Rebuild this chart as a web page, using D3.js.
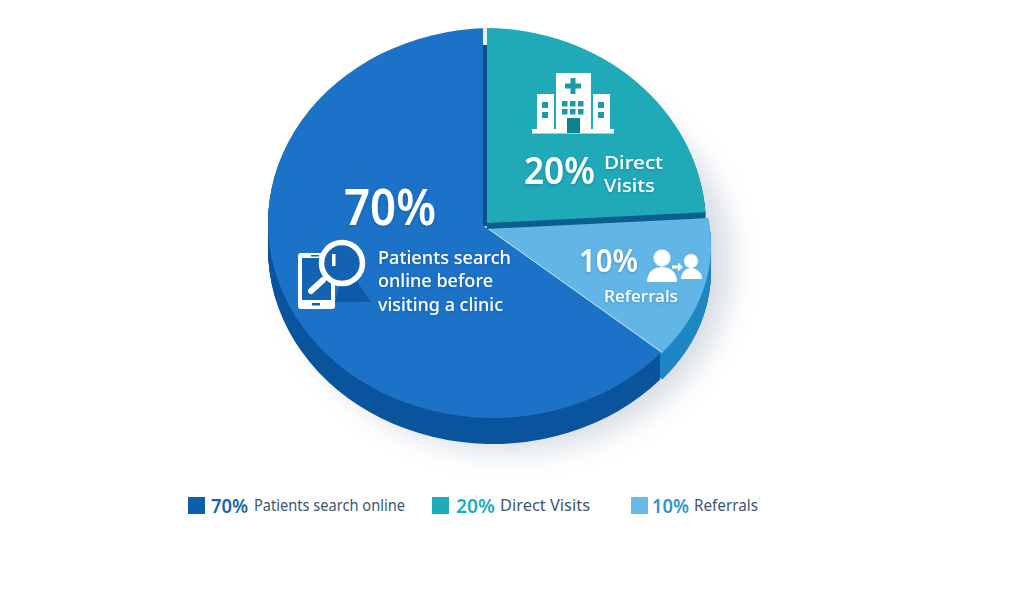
<!DOCTYPE html>
<html><head><meta charset="utf-8">
<script src="https://cdnjs.cloudflare.com/ajax/libs/d3/7.8.5/d3.min.js"></script>
<style>html,body{margin:0;background:#fff}svg{display:block;font-family:"Noto Sans",sans-serif}</style>
</head><body><svg id="c" width="1024" height="589"></svg>
<script>
const categories = ["Patients search online","Direct Visits","Referrals"];
const labelValues = [70,20,10];
// sweep of each slice as drawn in the picture (degrees, clockwise from 12 o'clock)
const drawnSweep = [226.3,86,47.7];
const topColors = ["#1c72c6","#20aab8","#62b6e6"];
const sideColors = ["#0a549e","#0b5f8e","#1f86c4"];
const legendColors = ["#0b60ae","#1fabb8","#66bbe9"];
const legendValueColors = ["#1565ad","#1fabb8","#2f93d2"];

const svg = d3.select("#c");
const defs = svg.append("defs");
defs.append("filter").attr("id","blur").attr("x","-30%").attr("y","-30%").attr("width","160%").attr("height","160%")
  .append("feGaussianBlur").attr("stdDeviation",14);
const ts = defs.append("filter").attr("id","ts").attr("x","-20%").attr("y","-20%").attr("width","140%").attr("height","140%");
ts.append("feDropShadow").attr("dx",0).attr("dy",1).attr("stdDeviation",1.5).attr("flood-color","#0a3a6a").attr("flood-opacity",.3);

const rows = categories.map((c,i)=>({c,i,sweep:drawnSweep[i]}));
const pie = d3.pie().sort(null).value(d=>d.sweep).startAngle(0).endAngle(2*Math.PI);
const arcs = pie([rows[1],rows[2],rows[0]]);
// each slice of the picture has its own slightly different ellipse and tip
const shape = {
  0:{cx:493,cy:223,rx:225,ry:195,tip:[493,223],turn:-1.7,depth:26},
  1:{cx:485,cy:226,rx:221,ry:198,tip:[487,223],turn:0,depth:6},
  2:{cx:489,cy:245,rx:222,ry:172,tip:[483,225],turn:-5,depth:27}
};
function wedge(k){
  const a = arcs.find(d=>d.data.i===k), s = shape[k], q = s.ry/s.rx, t = s.turn*Math.PI/180, h = Math.PI/2;
  const p = d3.path();
  p.moveTo(s.tip[0]-s.cx,(s.tip[1]-s.cy)/q);
  p.arc(0,0,s.rx,a.startAngle+t-h,a.endAngle+t-h);
  p.closePath();
  return p.toString();
}
const face = (k,dy)=>`translate(${shape[k].cx},${shape[k].cy+dy}) scale(1,${shape[k].ry/shape[k].rx})`;
function drawSide(k){
  svg.append("g").selectAll("path").data(d3.range(1,shape[k].depth+1)).join("path")
    .attr("d",wedge(k)).attr("transform",s=>face(k,s)).attr("fill",sideColors[k]);
}
function drawFace(k){ svg.append("path").attr("d",wedge(k)).attr("transform",face(k,0)).attr("fill",topColors[k]); }

// soft shadow
svg.append("ellipse").attr("cx",510).attr("cy",262).attr("rx",222).attr("ry",190)
  .attr("fill","#6f86a0").attr("opacity",.28).attr("filter","url(#blur)");

drawSide(2); drawSide(0); drawFace(0); drawFace(2);
// light seam between blue and light-blue
const sE = arcs.find(d=>d.data.i===2).endAngle + shape[2].turn*Math.PI/180;
svg.append("line").attr("x1",shape[2].tip[0]).attr("y1",shape[2].tip[1])
  .attr("x2",shape[2].cx+shape[2].rx*Math.sin(sE)).attr("y2",shape[2].cy-shape[2].ry*Math.cos(sE))
  .attr("stroke","#cfe8f8").attr("stroke-width",1);
drawSide(1); drawFace(1);
// white gap and inner dark wall of the big slice, next to the teal one
svg.append("rect").attr("x",483).attr("y",27).attr("width",4).attr("height",18).attr("fill","#eceef0");
svg.append("rect").attr("x",483).attr("y",45).attr("width",4).attr("height",181).attr("fill","#0a4f94");

const T = (x,y,s,size,weight,fill,filt)=>{
  const t = svg.append("text").attr("x",x).attr("y",y).text(s).attr("font-size",size).attr("font-weight",weight).attr("fill",fill||"#fff");
  if(filt!==false) t.attr("filter","url(#ts)");
  return t;
};
const fit = (t,w)=>t.attr("textLength",w).attr("lengthAdjust","spacingAndGlyphs");
fit(T(344,225,labelValues[0]+"%",50,600),92);
fit(T(378,264,"Patients search",18,500),133);
fit(T(378,287,"online before",18,500),115);
fit(T(378,311,"visiting a clinic",18,500),125);
fit(T(524,184,labelValues[1]+"%",38,600),71);
fit(T(604,169,"Direct",18.5,500),59);
fit(T(604,192,"Visits",18.5,500),51);
fit(T(579,272,labelValues[2]+"%",32,600),59);
fit(T(604,302,categories[2],16,500),74);

// phone + magnifier icon
const ic = svg.append("g");
ic.append("path").attr("d","M345 264 L371 302 L335 302 Z").attr("fill","#0e5aa8");
ic.append("rect").attr("x",298).attr("y",253).attr("width",37).attr("height",56).attr("rx",3).attr("fill","#fff");
ic.append("rect").attr("x",302).attr("y",258).attr("width",29).attr("height",42).attr("fill","#1463b3");
ic.append("rect").attr("x",312).attr("y",303).attr("width",8).attr("height",2.5).attr("fill","#1463b3");
ic.append("rect").attr("x",311).attr("y",255).attr("width",8).attr("height",1.5).attr("fill","#1463b3");
ic.append("circle").attr("cx",342).attr("cy",263).attr("r",20.5).attr("fill","#1463b3").attr("stroke","#fff").attr("stroke-width",5.5);
ic.append("rect").attr("x",332).attr("y",254).attr("width",3.5).attr("height",12).attr("fill","#fff");
ic.append("line").attr("x1",311).attr("y1",291).attr("x2",323).attr("y2",280).attr("stroke","#fff").attr("stroke-width",6).attr("stroke-linecap","round");

// hospital icon
const h = svg.append("g").attr("fill","#fff");
h.append("rect").attr("x",556).attr("y",73).attr("width",35).attr("height",57);
h.append("rect").attr("x",537).attr("y",94).attr("width",17).attr("height",36);
h.append("rect").attr("x",593).attr("y",94).attr("width",17).attr("height",36);
h.append("rect").attr("x",532).attr("y",129).attr("width",82).attr("height",4.5);
const tl = "#1b9aa8";
h.append("path").attr("d","M570.5 78 h5 v5.5 h5.5 v5 h-5.5 v5.5 h-5 v-5.5 h-5.5 v-5 h5.5 z").attr("fill",tl);
[[542,102],[542,112],[598,102],[598,112]].forEach(p=>h.append("rect").attr("x",p[0]).attr("y",p[1]).attr("width",6).attr("height",6).attr("fill",tl));
[0,1,2].forEach(i=>[0,1].forEach(j=>h.append("rect").attr("x",562+i*8).attr("y",101+j*8).attr("width",5.5).attr("height",5.5).attr("fill",tl)));
h.append("rect").attr("x",567).attr("y",118).attr("width",13).attr("height",15).attr("fill","#0e8490");

// people icon
const pp = svg.append("g").attr("fill","#fff");
pp.append("circle").attr("cx",662).attr("cy",258).attr("r",8.5);
pp.append("path").attr("d","M647 282 C647 272 654 267 662 267 C670 267 677 272 677 282 Z");
pp.append("circle").attr("cx",691).attr("cy",261).attr("r",7);
pp.append("path").attr("d","M681 279 C681 272 686 268 691 268 C696 268 702 272 702 279 Z");
pp.append("path").attr("d","M672 265.5 h6 v-3 l5 4.5 l-5 4.5 v-3 h-6 z");

// legend
const lg = [[188,211,254],[432,456,500],[631,652,694]];
const lgValueWidths = [37,39,37];
const lgWidths = [151,90,64];
rows.forEach((r,i)=>{
  const [a,b,c] = lg[i];
  svg.append("rect").attr("x",a).attr("y",497).attr("width",17).attr("height",17).attr("fill",legendColors[i]);
  fit(T(b,513,labelValues[i]+"%",20,600,legendValueColors[i],false),lgValueWidths[i]);
  fit(T(c,511,r.c,16,400,"#3d5675",false),lgWidths[i]);
});
</script></body></html>
